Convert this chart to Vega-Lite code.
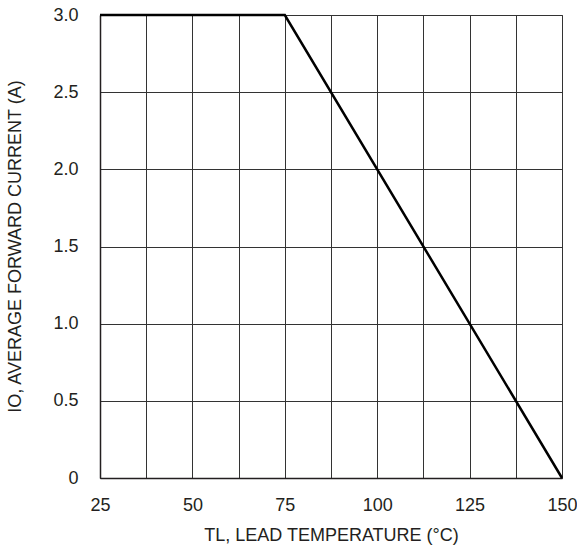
{
  "$schema": "https://vega.github.io/schema/vega-lite/v6.json",
  "width": 462,
  "height": 463,
  "autosize": {"type": "none"},
  "padding": {"left": 100, "top": 15, "right": 15, "bottom": 76},
  "background": "white",
  "config": {
    "font": "Liberation Sans",
    "view": {"stroke": "#555", "strokeWidth": 1},
    "axis": {
      "labelFont": "Liberation Sans",
      "titleFont": "Liberation Sans",
      "labelFontSize": 18,
      "titleFontSize": 18,
      "labelColor": "#231f20",
      "titleColor": "#231f20",
      "titleFontWeight": "normal",
      "ticks": false,
      "domainColor": "#231f20",
      "domainWidth": 1.5,
      "gridColor": "#333",
      "gridOpacity": 1,
      "gridWidth": 1
    }
  },
  "data": {
    "values": [
      {"t": 25, "i": 3.0},
      {"t": 75, "i": 3.0},
      {"t": 150, "i": 0.0}
    ]
  },
  "mark": {"type": "line", "color": "#000", "strokeWidth": 2.5, "clip": false},
  "encoding": {
    "x": {
      "field": "t",
      "type": "quantitative",
      "scale": {"domain": [25, 150], "nice": false, "zero": false},
      "axis": {
        "values": [25, 37.5, 50, 62.5, 75, 87.5, 100, 112.5, 125, 137.5, 150],
        "labelExpr": "datum.value % 25 == 0 ? datum.value : ''",
        "labelPadding": 18,
        "title": "TL,  LEAD TEMPERATURE (°C)",
        "titlePadding": 12,
        "grid": true,
        "labelFlush": false,
        "labelOverlap": false
      }
    },
    "y": {
      "field": "i",
      "type": "quantitative",
      "scale": {"domain": [0, 3], "nice": false},
      "axis": {
        "values": [0, 0.5, 1, 1.5, 2, 2.5, 3],
        "labelExpr": "datum.value == 0 ? '0' : format(datum.value, '.1f')",
        "labelPadding": 22,
        "title": "IO, AVERAGE FORWARD CURRENT (A)",
        "titleX": -76,
        "titleY": 231,
        "grid": true,
        "labelFlush": false,
        "labelOverlap": false
      }
    }
  }
}
